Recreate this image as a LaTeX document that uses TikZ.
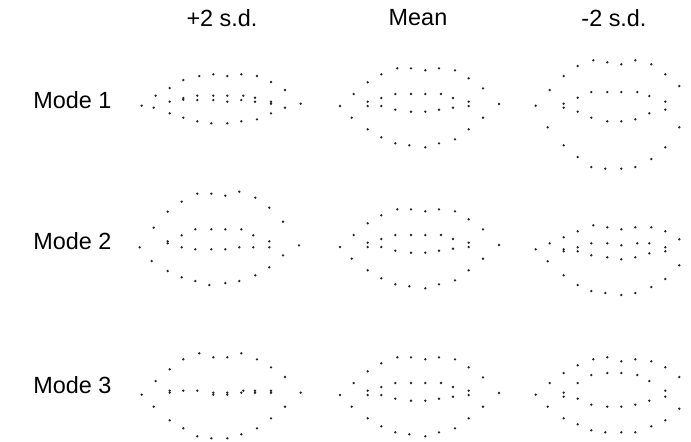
\documentclass[tikz,border=0pt]{standalone}
\usepackage{fontspec}
\setmainfont{Liberation Sans}
\usetikzlibrary{positioning}
% landmark sets, in pixel units (x right, y down)
\newcommand{\meanlip}{340/106, 351.7/117.7, 353.7/94, 367.7/82.3, 381.3/74.3, 397.3/68.3, 411/68.3, 425.3/70.3, 439/68.3, 455/70.3, 468.7/78.3, 483/88.3, 499/104, 483/117.7, 468.7/129.3, 455/139.3, 439/143.3, 425.3/147.3, 409.3/145.3, 395.3/143.3, 381.3/137.3, 367.7/129.3, 367.7/101.7, 367.7/106, 381.3/98, 381.3/106, 395.3/94, 411/94, 425.3/94, 441/94, 453/98, 468.7/101.7, 468.7/106, 395.3/109.7, 411/111.7, 425.3/111.7, 439/109.7, 453/107.7}
\newcommand{\modeAplus}{141.7/105.7, 153.7/107.7, 155.7/95.7, 169.7/88, 183.3/80, 199.3/76, 213.3/74.3, 227.3/76, 241.3/74.3, 257/76, 271/82, 285/90, 300.7/103.7, 169.7/101.7, 183.3/98, 183.3/99.7, 197.3/95.7, 213.3/95.7, 227.3/95.7, 243.3/95.7, 255/97.7, 271/101.7, 271/103.7, 197.3/100, 213.3/100, 227.3/101.7, 241.3/100, 255/101.7, 169.7/113.3, 183.3/117.7, 197.3/121.3, 211.3/123.3, 227.3/123.3, 241.3/121.3, 257/119.3, 271/113.3, 285/107.7}
\newcommand{\modeAminus}{535.7/105.7, 547.7/127.3, 549.7/90, 563.7/76, 577.7/66, 593.3/60.3, 607.3/62.3, 621.3/64.3, 635.3/60.3, 651.3/64.3, 665.3/74.3, 679.3/86, 679.3/127.3, 665.3/147.3, 651.3/159, 635.3/167, 621.3/168.7, 605.3/168.7, 591.3/167, 577.7/157, 563.7/145.3, 563.7/103.7, 563.7/107.7, 577.7/97.7, 577.7/111.7, 591.3/92, 607.3/92, 621.3/92, 637.3/92, 649.3/96, 665.3/101.7, 665.3/109.7, 591.3/117.7, 607.3/121.3, 621.3/121.3, 635.3/119.3, 649.3/113.3}
\newcommand{\modeBplus}{139.7/247.3, 151.7/261, 153.7/227.7, 167.7/211.7, 181.7/201.7, 197.3/193.7, 211.3/193.7, 225.3/195.7, 239.3/191.7, 255.3/197.7, 269.3/207.7, 283/221.7, 299/245.3, 283/255.3, 269.3/267.3, 255.3/275.3, 239.3/281, 225.3/283, 209.3/285, 195.3/281, 181.7/277.3, 167.7/271, 167.7/241.3, 167.7/243.3, 181.7/235.3, 181.7/247.3, 195.3/229.3, 211.3/229.3, 225.3/229.3, 241.3/229.3, 253.3/235.3, 269.3/241.3, 269.3/247.3, 195.3/249.3, 211.3/249.3, 225.3/249.3, 239.3/247.3, 253.3/247.3}
\newcommand{\modeBminus}{535.7/249.3, 547.7/261.3, 549.7/243.3, 563.7/237.3, 577.7/231.3, 593.3/225.3, 607.3/227.3, 621.3/229.3, 635.3/227.3, 651.3/227.3, 665.3/231.3, 679.3/239.3, 679.3/265.3, 665.3/279, 651.3/287, 635.3/293, 621.3/295, 605.3/293, 591.3/291, 577.7/285, 563.7/275.3, 563.7/249.3, 563.7/251.3, 577.7/247.3, 577.7/251.3, 591.3/243.3, 607.3/243.3, 621.3/245.3, 637.3/243.3, 649.3/243.3, 665.3/247.3, 665.3/251.3, 591.3/255.3, 607.3/257.3, 621.3/259.3, 635.3/257.3, 649.3/253.3}
\newcommand{\modeCplus}{141.7/394.7, 153.7/406.7, 155.7/381, 169.7/369.3, 183.3/359.3, 199.3/353.3, 213.3/357.3, 227.3/357.3, 241.3/353.3, 257/359.3, 271/367.3, 285/377, 300.7/392.7, 285/406.7, 271/418.3, 257/428.3, 241.3/434.3, 227.3/438.3, 211.3/438.3, 197.3/436.3, 183.3/428.3, 169.7/420.3, 169.7/390.7, 169.7/392.7, 183.3/390.7, 197.3/390.7, 213.3/392.7, 213.3/394.7, 227.3/392.7, 227.3/394.7, 241.3/392.7, 243.3/390.7, 255/390.7, 255/392.7, 271/390.7, 271/392.7}
\newcommand{\modeCminus}{535.7/394.7, 547.7/406.7, 549.7/383, 563.7/373, 577.7/365.3, 593.3/359.3, 607.3/357.3, 621.3/361.3, 635.3/359.3, 651.3/361.3, 665.3/367.3, 679.3/377, 679.3/408.7, 665.3/420.3, 651.3/426.3, 635.3/432.3, 621.3/432.3, 605.3/432.3, 591.3/430.3, 577.7/424.3, 563.7/418.3, 563.7/392.7, 563.7/396.7, 577.7/383, 577.7/398.7, 591.3/375, 607.3/373, 621.3/373, 637.3/375, 649.3/381, 665.3/390.7, 665.3/396.7, 591.3/404.7, 607.3/406.7, 621.3/406.7, 635.3/404.7, 649.3/400.7}

\begin{document}
\begin{tikzpicture}[x=0.5pt,y=-0.5pt,
  lbl/.style={font=\fontsize{11.7}{14}\selectfont,inner sep=0pt},
  lm/.style={fill=black!85}]
\useasboundingbox (0,0) rectangle (691,441);
% column and row headings
\node[lbl] (plus) at (222,18) {+2 s.d.};
\node[lbl] (mean) at (418,18) {Mean};
\node[lbl] (minus) at (614,18) {-2 s.d.};
\node[lbl,anchor=west] (m1) at (33,100) {Mode 1};
\node[lbl,anchor=west] (m2) at (33,241) {Mode 2};
\node[lbl,anchor=west] (m3) at (33,385) {Mode 3};
% mean shape, once per row
\foreach \dy in {0,141,289}{
  \begin{scope}[shift={(0,\dy)}]
  \foreach \px/\py in \meanlip \fill[lm] (\px,\py) circle[radius=0.65pt];
  \end{scope}
}
% +/- 2 s.d. shapes
\foreach \px/\py in \modeAplus \fill[lm] (\px,\py) circle[radius=0.65pt];
\foreach \px/\py in \modeAminus \fill[lm] (\px,\py) circle[radius=0.65pt];
\foreach \px/\py in \modeBplus \fill[lm] (\px,\py) circle[radius=0.65pt];
\foreach \px/\py in \modeBminus \fill[lm] (\px,\py) circle[radius=0.65pt];
\foreach \px/\py in \modeCplus \fill[lm] (\px,\py) circle[radius=0.65pt];
\foreach \px/\py in \modeCminus \fill[lm] (\px,\py) circle[radius=0.65pt];
\end{tikzpicture}
\end{document}
